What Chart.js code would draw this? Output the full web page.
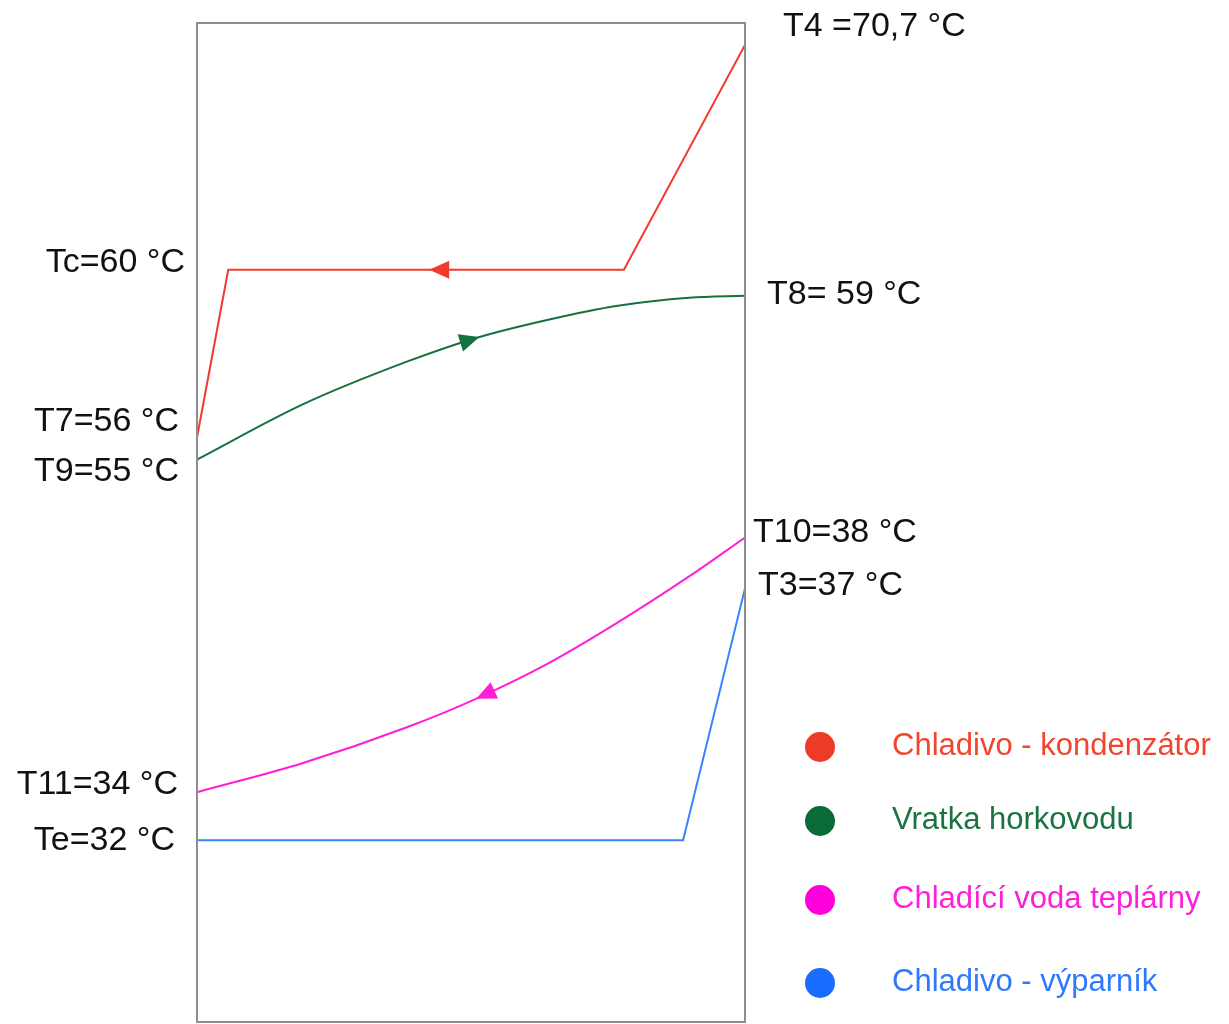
<!DOCTYPE html>
<html>
<head>
<meta charset="utf-8">
<script src="https://cdn.jsdelivr.net/npm/chart.js@4"></script>
<style>
    html, body { margin: 0; padding: 0; background: #fff; overflow: hidden; }
    #wrap { width: 1229px; height: 1024px; }
</style>
</head>
<body>
<div id="wrap"><canvas id="tq" width="1229" height="1024"></canvas></div>
<script>
// --- Data (schematic units: x 0..100 across the box, y 0..100 bottom to top) ---
const seriesNames = ['Chladivo - kondenzátor', 'Vratka horkovodu', 'Chladící voda teplárny', 'Chladivo - výparník'];

const redX = [0, 5.7, 77.9, 100];
const redY = [58.5, 75.3, 75.3, 97.8];

const greenX = [0, 19.2, 38.3, 51.1, 64.1, 76.8, 89.8, 100];
const greenY = [56.3, 61.8, 66.1, 68.5, 70.3, 71.7, 72.5, 72.7];

const pinkX = [0, 19.2, 38.3, 51.1, 64.1, 76.8, 89.8, 100];
const pinkY = [23.0, 25.9, 29.5, 32.4, 35.9, 40.0, 44.6, 48.5];

const blueX = [0, 88.7, 100];
const blueY = [18.2, 18.2, 43.4];

// flow arrows: position along x and direction
const arrowAt = [44.2, 49.8, 52.6, null];
const arrowDir = [-1, 1, -1, 0];

const tempLabels = ['Tc=60 °C', 'T7=56 °C', 'T9=55 °C', 'T11=34 °C', 'Te=32 °C',
                    'T4 =70,7 °C', 'T8= 59 °C', 'T10=38 °C', 'T3=37 °C'];

// --- Layout / style ---
const colors = ['#f23a2c', '#15723f', '#ff1fd6', '#3a82ff'];
const legendColors = ['#ee3b25', '#0b6b38', '#ff00dc', '#1a6dff'];
const legendTextColors = ['#f0462f', '#1a7340', '#ff1fd8', '#2f79ff'];

// label anchor: [series, point index, side, dx, dy]
const labelLayout = [
    [0, 1, 'left', -12, -7],
    [0, 0, 'left', -18, -16],
    [1, 0, 'left', -18, 12],
    [2, 0, 'left', -19, -8],
    [3, 0, 'left', -22, 0],
    [0, 3, 'right', 38, -18],
    [1, 7, 'right', 22, -1],
    [2, 7, 'right', 8, -5],
    [3, 2, 'right', 13, -3]
];
const legendRows = [747, 821, 900, 983];

function toPoints(xs, ys) {
    return xs.map((x, i) => ({ x: x, y: ys[i] }));
}

const seriesData = [
    toPoints(redX, redY),
    toPoints(greenX, greenY),
    toPoints(pinkX, pinkY),
    toPoints(blueX, blueY)
];
const curved = [false, true, true, false];

// find point + tangent on the drawn line at a given pixel x
function pointOnLine(points, px) {
    for (let i = 0; i < points.length - 1; i++) {
        const a = points[i], b = points[i + 1];
        if (px < Math.min(a.x, b.x) || px > Math.max(a.x, b.x)) continue;
        if (a.cp2x === undefined || b.cp1x === undefined) {
            const t = (px - a.x) / (b.x - a.x);
            return { x: px, y: a.y + t * (b.y - a.y), dx: b.x - a.x, dy: b.y - a.y };
        }
        const c1x = a.cp2x, c1y = a.cp2y, c2x = b.cp1x, c2y = b.cp1y;
        const bez = (p0, p1, p2, p3, t) => {
            const u = 1 - t;
            return u * u * u * p0 + 3 * u * u * t * p1 + 3 * u * t * t * p2 + t * t * t * p3;
        };
        const der = (p0, p1, p2, p3, t) => {
            const u = 1 - t;
            return 3 * u * u * (p1 - p0) + 6 * u * t * (p2 - p1) + 3 * t * t * (p3 - p2);
        };
        let lo = 0, hi = 1;
        for (let k = 0; k < 40; k++) {
            const mid = (lo + hi) / 2;
            if (bez(a.x, c1x, c2x, b.x, mid) < px) lo = mid; else hi = mid;
        }
        const t = (lo + hi) / 2;
        return {
            x: bez(a.x, c1x, c2x, b.x, t),
            y: bez(a.y, c1y, c2y, b.y, t),
            dx: der(a.x, c1x, c2x, b.x, t),
            dy: der(a.y, c1y, c2y, b.y, t)
        };
    }
    return null;
}

const decorPlugin = {
    id: 'decor',
    afterDatasetsDraw(chart) {
        const ctx = chart.ctx;
        const area = chart.chartArea;
        const xs = chart.scales.x;

        // frame
        ctx.save();
        ctx.strokeStyle = '#8e8e8e';
        ctx.lineWidth = 2;
        ctx.strokeRect(area.left, area.top, area.right - area.left, area.bottom - area.top);
        ctx.restore();

        // arrows
        chart.data.datasets.forEach((ds, i) => {
            if (arrowAt[i] === null) return;
            const pts = chart.getDatasetMeta(i).data;
            const p = pointOnLine(pts, xs.getPixelForValue(arrowAt[i]));
            if (!p) return;
            const len = Math.hypot(p.dx, p.dy);
            const ux = p.dx / len * arrowDir[i], uy = p.dy / len * arrowDir[i];
            const L = 20, W = 9;
            ctx.save();
            ctx.fillStyle = colors[i];
            ctx.beginPath();
            ctx.moveTo(p.x + ux * L / 2, p.y + uy * L / 2);
            ctx.lineTo(p.x - ux * L / 2 - uy * W, p.y - uy * L / 2 + ux * W);
            ctx.lineTo(p.x - ux * L / 2 + uy * W, p.y - uy * L / 2 - ux * W);
            ctx.closePath();
            ctx.fill();
            ctx.restore();
        });

        // temperature labels
        ctx.save();
        ctx.font = '34px "Liberation Sans", Arial, sans-serif';
        ctx.fillStyle = '#111';
        ctx.textBaseline = 'middle';
        labelLayout.forEach((l, i) => {
            const el = chart.getDatasetMeta(l[0]).data[l[1]];
            if (l[2] === 'left') {
                ctx.textAlign = 'right';
                ctx.fillText(tempLabels[i], area.left + l[3], el.y + l[4]);
            } else {
                ctx.textAlign = 'left';
                ctx.fillText(tempLabels[i], area.right + l[3], el.y + l[4]);
            }
        });
        ctx.restore();

        // legend
        ctx.save();
        ctx.font = '31px "Liberation Sans", Arial, sans-serif';
        ctx.textBaseline = 'middle';
        ctx.textAlign = 'left';
        chart.data.datasets.forEach((ds, i) => {
            const y = legendRows[i];
            ctx.fillStyle = legendColors[i];
            ctx.beginPath();
            ctx.arc(area.right + 75, y, 15, 0, Math.PI * 2);
            ctx.fill();
            ctx.fillStyle = legendTextColors[i];
            ctx.fillText(ds.label, area.right + 147, y - 1);
        });
        ctx.restore();
    }
};

const chart = new Chart(document.getElementById('tq'), {
    type: 'line',
    data: {
        datasets: seriesData.map((d, i) => ({
            label: seriesNames[i],
            data: d,
            borderColor: colors[i],
            borderWidth: 2,
            pointRadius: 0,
            fill: false,
            tension: curved[i] ? 0.4 : 0,
            cubicInterpolationMode: curved[i] ? 'monotone' : 'default'
        }))
    },
    options: {
        responsive: false,
        animation: false,
        layout: { padding: { left: 197, right: 484, top: 23, bottom: 2 } },
        plugins: {
            legend: { display: false },
            tooltip: { enabled: false }
        },
        scales: {
            x: { type: 'linear', min: 0, max: 100, display: false },
            y: { type: 'linear', min: 0, max: 100, display: false }
        }
    },
    plugins: [decorPlugin]
});
</script>
</body>
</html>
